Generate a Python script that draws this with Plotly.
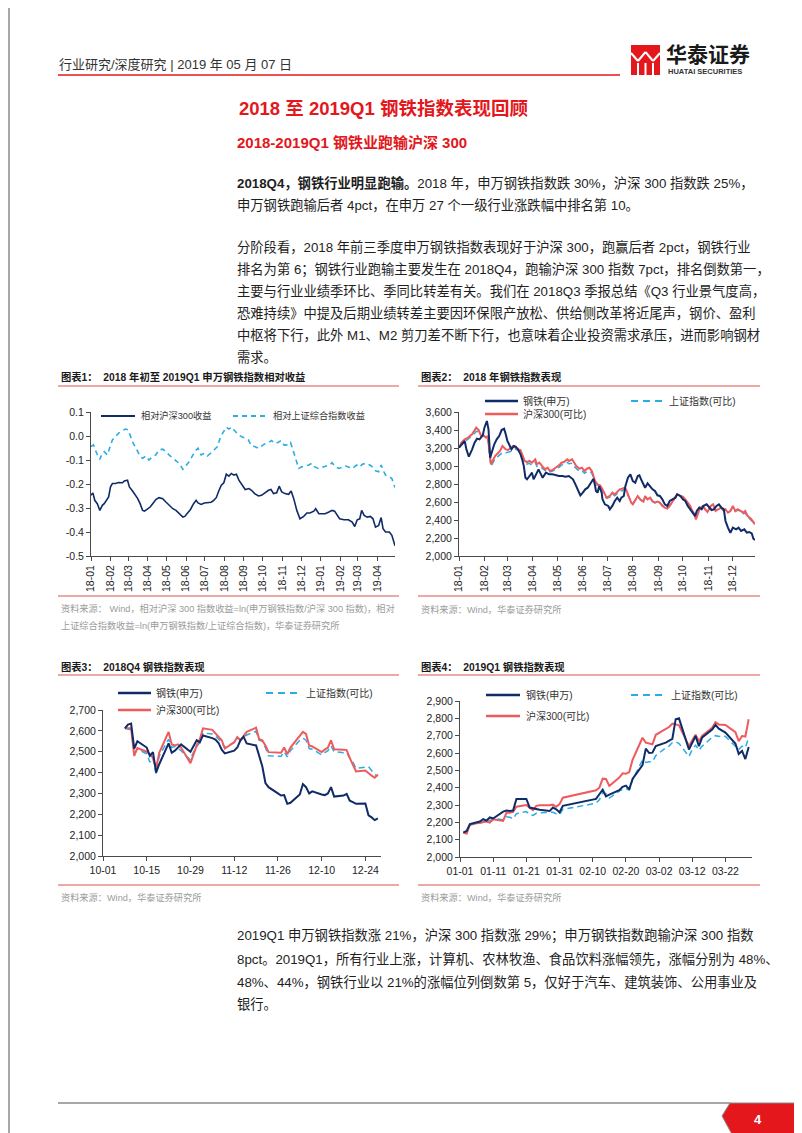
"""
Huatai steel report page: 2018 - 2019Q1 steel index review, four line charts.
"""

import pandas as pd
import plotly.graph_objects as go

W, H = 802, 1133

NAVY = "#0f2b68"
CYAN = "#29ade2"
RED = "#ef5a5c"
HT_RED = "#e3171c"
RULE = "#e98c88"
GREY_TXT = "#9b9b9b"
FONT = "Liberation Sans, Arial, Noto Sans CJK SC, sans-serif"

# ---------------- chart 1: relative return, days since 2018-01-01 ----------------
C1_BASE = "2018-01-01"
C1_HS300_DAY = [0, 3, 6, 10, 14, 18, 21, 25, 28, 31, 34, 39, 44, 50, 53, 58, 61, 66, 69, 74,
                78, 82, 85, 90, 94, 98, 103, 108, 114, 119, 124, 130, 135, 140, 146, 149, 154,
                158, 163, 167, 170, 175, 180, 186, 191, 195, 199, 203, 207, 211, 215, 219, 223,
                227, 231, 235, 240, 245, 251, 255, 260, 266, 271, 276, 282, 286, 290, 295, 299,
                303, 308, 314, 318, 322, 327, 332, 338, 343, 348, 354, 357, 362, 367, 372, 378,
                383, 387, 391, 395, 402, 409, 415, 419, 423, 427, 430, 434, 439, 444, 448, 452,
                457, 461, 464, 468, 474, 478, 483]
C1_HS300 = [-0.247, -0.237, -0.268, -0.282, -0.310, -0.289, -0.282, -0.268, -0.254, -0.212,
            -0.198, -0.198, -0.194, -0.195, -0.187, -0.184, -0.212, -0.229, -0.240, -0.260,
            -0.282, -0.310, -0.313, -0.303, -0.296, -0.282, -0.265, -0.257, -0.261, -0.275,
            -0.289, -0.303, -0.310, -0.321, -0.338, -0.335, -0.321, -0.306, -0.282, -0.268,
            -0.279, -0.285, -0.279, -0.279, -0.276, -0.268, -0.257, -0.229, -0.205, -0.195,
            -0.159, -0.167, -0.156, -0.163, -0.159, -0.184, -0.205, -0.223, -0.219, -0.226,
            -0.240, -0.250, -0.247, -0.237, -0.226, -0.223, -0.240, -0.237, -0.209, -0.233,
            -0.240, -0.243, -0.229, -0.260, -0.310, -0.345, -0.335, -0.321, -0.321, -0.313,
            -0.303, -0.324, -0.324, -0.324, -0.317, -0.310, -0.313, -0.331, -0.345, -0.349,
            -0.349, -0.359, -0.377, -0.349, -0.345, -0.310, -0.331, -0.338, -0.335, -0.345,
            -0.380, -0.373, -0.340, -0.386, -0.400, -0.400, -0.414, -0.457]
C1_SSE_DAY = [0, 4, 9, 14, 18, 21, 26, 30, 34, 39, 44, 50, 55, 59, 63, 67, 73, 78, 82, 87,
              92, 98, 103, 108, 114, 119, 124, 130, 135, 140, 146, 151, 156, 162, 165, 170,
              175, 180, 185, 190, 195, 201, 206, 211, 215, 219, 224, 228, 234, 239, 244, 250,
              255, 260, 266, 271, 276, 282, 287, 291, 297, 302, 307, 313, 317, 320, 324, 330,
              335, 340, 346, 351, 355, 361, 367, 373, 379, 383, 388, 394, 399, 405, 411, 416,
              420, 425, 428, 432, 437, 443, 448, 452, 457, 461, 464, 468, 474, 478, 483]
C1_SSE = [-0.044, -0.037, -0.072, -0.097, -0.072, -0.065, -0.079, -0.051, -0.016, -0.002,
          0.012, 0.023, 0.029, 0.026, -0.002, -0.030, -0.058, -0.086, -0.093, -0.083,
          -0.100, -0.086, -0.079, -0.058, -0.055, -0.065, -0.079, -0.093, -0.103, -0.114,
          -0.139, -0.125, -0.107, -0.079, -0.065, -0.051, -0.079, -0.072, -0.083, -0.072,
          -0.061, -0.044, -0.002, 0.019, 0.037, 0.029, 0.037, 0.023, 0.005, -0.002,
          -0.009, -0.016, -0.041, -0.044, -0.051, -0.041, -0.033, -0.027, -0.019, -0.030,
          -0.027, -0.019, -0.038, -0.037, -0.027, -0.051, -0.086, -0.135, -0.128, -0.125,
          -0.121, -0.114, -0.128, -0.135, -0.131, -0.128, -0.121, -0.111, -0.128, -0.135,
          -0.131, -0.125, -0.131, -0.135, -0.125, -0.117, -0.125, -0.117, -0.114, -0.121,
          -0.131, -0.145, -0.149, -0.121, -0.142, -0.163, -0.170, -0.177, -0.215]
C1_YTICKS = [0.1, 0.0, -0.1, -0.2, -0.3, -0.4, -0.5]
C1_YTICKTEXT = ["0.1", "0.0", "-0.1", "-0.2", "-0.3", "-0.4", "-0.5"]

# ---------------- chart 2: 2018 index levels, days since 2018-01-01 ----------------
C2_BASE = "2018-01-01"
C2_STEEL_DAY = [0, 3, 7, 9, 12, 16, 19, 22, 25, 29, 31, 34, 36, 38, 40, 43, 46, 49, 52, 55,
                57, 59, 61, 64, 67, 69, 72, 75, 77, 79, 81, 83, 86, 89, 91, 93, 97, 100, 102,
                106, 110, 114, 118, 122, 126, 130, 134, 139, 142, 145, 148, 151, 154, 157, 160,
                162, 164, 166, 167, 169, 171, 174, 175, 178, 182, 184, 187, 190, 193, 196, 198,
                201, 203, 206, 209, 212, 215, 218, 220, 223, 227, 230, 233, 236, 239, 242, 245,
                248, 251, 254, 257, 261, 264, 266, 270, 273, 276, 279, 282, 284, 288, 290, 293,
                296, 298, 302, 305, 308, 311, 314, 317, 320, 323, 325, 328, 331, 334, 338, 341,
                344, 348, 351, 354, 357, 359, 361]
C2_STEEL = [3204, 3241, 3278, 3185, 3104, 3185, 3259, 3304, 3296, 3341,
            3426, 3500, 3407, 3093, 3148, 3241, 3296, 3333, 3400, 3415,
            3352, 3278, 3241, 3185, 3222, 3215, 3185, 3130, 3074, 3000,
            2870, 2852, 2889, 2926, 2852, 2889, 2963, 2907, 2870, 2926,
            2907, 2907, 2896, 2889, 2889, 2881, 2889, 2852, 2796, 2741,
            2674, 2704, 2741, 2759, 2796, 2822, 2859, 2778, 2722, 2704,
            2778, 2704, 2630, 2574, 2556, 2519, 2556, 2611, 2648, 2611,
            2648, 2667, 2778, 2870, 2907, 2833, 2815, 2889, 2896, 2833,
            2759, 2807, 2770, 2741, 2722, 2674, 2667, 2630, 2574, 2556,
            2611, 2630, 2648, 2685, 2667, 2630, 2611, 2556, 2519, 2500,
            2444, 2500, 2537, 2519, 2556, 2574, 2537, 2511, 2519, 2556,
            2574, 2537, 2519, 2389, 2315, 2259, 2315, 2296, 2315, 2278,
            2296, 2259, 2267, 2252, 2193, 2178]
C2_IDX_DAY = [0, 3, 7, 11, 16, 19, 21, 24, 27, 30, 33, 35, 37, 39, 41, 44, 48, 50, 53, 57,
              60, 63, 66, 69, 72, 75, 78, 80, 83, 86, 89, 93, 95, 98, 102, 105, 108, 111, 114,
              118, 122, 125, 128, 132, 134, 138, 141, 143, 147, 150, 153, 156, 159, 162, 164,
              166, 169, 172, 175, 178, 180, 184, 187, 190, 193, 196, 199, 202, 204, 207, 210,
              212, 216, 218, 221, 225, 227, 230, 233, 236, 239, 242, 245, 248, 251, 254, 257,
              261, 264, 266, 270, 273, 276, 279, 282, 284, 287, 289, 292, 294, 298, 300, 303,
              307, 310, 313, 316, 320, 323, 325, 328, 331, 334, 337, 340, 343, 347, 349, 352,
              356, 358, 361]
C2_HS300 = [3204, 3259, 3296, 3315, 3352, 3389, 3426, 3400, 3333, 3341,
            3315, 3333, 3130, 3019, 3056, 3111, 3148, 3167, 3222, 3185,
            3178, 3204, 3222, 3204, 3185, 3178, 3111, 3056, 3044, 3056,
            3037, 3074, 3019, 3037, 2993, 2963, 2981, 2944, 2956, 2981,
            3007, 3037, 3044, 3074, 3056, 3074, 3019, 3000, 2970, 2981,
            2944, 2970, 2981, 2944, 2889, 2833, 2796, 2785, 2741, 2685,
            2648, 2667, 2704, 2685, 2711, 2741, 2748, 2759, 2733, 2667,
            2593, 2574, 2648, 2667, 2630, 2604, 2667, 2630, 2648, 2611,
            2593, 2604, 2593, 2556, 2537, 2526, 2556, 2611, 2667, 2685,
            2667, 2659, 2630, 2593, 2556, 2511, 2463, 2407, 2500, 2537,
            2556, 2519, 2489, 2556, 2574, 2500, 2519, 2537, 2500, 2519,
            2481, 2500, 2556, 2500, 2519, 2500, 2481, 2500, 2444, 2415,
            2389, 2352]
C2_SSE = [3204, 3240, 3270, 3300, 3330, 3360, 3385, 3380, 3330, 3335,
          3310, 3325, 3120, 3000, 3030, 3080, 3110, 3130, 3150, 3148,
          3150, 3160, 3175, 3190, 3170, 3160, 3100, 3050, 3020, 3030,
          3010, 3040, 2995, 3000, 2970, 2950, 2960, 2935, 2945, 2965,
          2985, 3010, 3020, 3040, 3025, 3030, 2990, 2970, 2940, 2950,
          2920, 2935, 2945, 2920, 2870, 2820, 2780, 2765, 2720, 2670,
          2640, 2655, 2690, 2670, 2690, 2720, 2725, 2740, 2715, 2660,
          2600, 2585, 2640, 2660, 2625, 2600, 2655, 2625, 2640, 2605,
          2590, 2600, 2590, 2560, 2540, 2530, 2560, 2610, 2660, 2680,
          2660, 2655, 2625, 2590, 2555, 2510, 2470, 2420, 2500, 2530,
          2545, 2515, 2490, 2550, 2565, 2510, 2515, 2530, 2500, 2515,
          2485, 2500, 2545, 2495, 2510, 2495, 2470, 2480, 2430, 2400,
          2380, 2385]

# ---------------- chart 3: 2018Q4 ----------------
Q4_DATES = [
    "2018-10-08", "2018-10-09", "2018-10-10", "2018-10-11", "2018-10-12",
    "2018-10-15", "2018-10-16", "2018-10-17", "2018-10-18", "2018-10-19",
    "2018-10-22", "2018-10-23", "2018-10-24", "2018-10-25", "2018-10-26",
    "2018-10-29", "2018-10-30", "2018-10-31", "2018-11-01", "2018-11-02",
    "2018-11-05", "2018-11-06", "2018-11-07", "2018-11-08", "2018-11-09",
    "2018-11-12", "2018-11-13", "2018-11-14", "2018-11-15", "2018-11-16",
    "2018-11-19", "2018-11-20", "2018-11-21", "2018-11-22", "2018-11-23",
    "2018-11-26", "2018-11-27", "2018-11-28", "2018-11-29", "2018-11-30",
    "2018-12-03", "2018-12-04", "2018-12-05", "2018-12-06", "2018-12-07",
    "2018-12-10", "2018-12-11", "2018-12-12", "2018-12-13", "2018-12-14",
    "2018-12-17", "2018-12-18", "2018-12-19", "2018-12-20", "2018-12-21",
    "2018-12-24", "2018-12-25", "2018-12-26", "2018-12-27", "2018-12-28",
]
Q4_STEEL = [2612, 2630, 2635, 2515, 2550, 2520, 2480, 2498, 2400, 2440,
            2540, 2495, 2505, 2520, 2535, 2500, 2525, 2555, 2545, 2578,
            2565, 2558, 2542, 2510, 2492, 2505, 2520, 2555, 2572, 2540,
            2530, 2480, 2430, 2350, 2330, 2300, 2290, 2292, 2250, 2255,
            2295, 2345, 2330, 2300, 2310, 2295, 2292, 2300, 2330, 2285,
            2290, 2298, 2265, 2258, 2250, 2252, 2195, 2185, 2172, 2180]
Q4_HS300 = [2612, 2612, 2612, 2480, 2518, 2500, 2488, 2470, 2420, 2495,
            2595, 2535, 2530, 2535, 2520, 2445, 2490, 2530, 2560, 2612,
            2605, 2590, 2575, 2555, 2515, 2545, 2570, 2555, 2575, 2595,
            2615, 2560, 2555, 2530, 2498, 2495, 2495, 2520, 2488, 2520,
            2580, 2595, 2585, 2530, 2525, 2498, 2510, 2520, 2555, 2512,
            2510, 2508, 2470, 2440, 2405, 2410, 2395, 2385, 2375, 2390]
Q4_SSE = [2612, 2608, 2605, 2492, 2512, 2490, 2450, 2470, 2395, 2480,
          2560, 2520, 2525, 2515, 2505, 2460, 2500, 2525, 2545, 2590,
          2585, 2575, 2560, 2545, 2520, 2545, 2565, 2555, 2570, 2580,
          2598, 2555, 2550, 2520, 2480, 2478, 2478, 2500, 2475, 2505,
          2555, 2565, 2555, 2515, 2512, 2485, 2495, 2505, 2528, 2500,
          2495, 2495, 2470, 2450, 2420, 2425, 2428, 2410, 2390, 2385]

# ---------------- chart 4: 2019Q1 ----------------
Q1_DATES = [
    "2019-01-02", "2019-01-03", "2019-01-04", "2019-01-07", "2019-01-08", "2019-01-09",
    "2019-01-10", "2019-01-11", "2019-01-14", "2019-01-15", "2019-01-16", "2019-01-17",
    "2019-01-18", "2019-01-21", "2019-01-22", "2019-01-23", "2019-01-24", "2019-01-25",
    "2019-01-28", "2019-01-29", "2019-01-30", "2019-01-31", "2019-02-01", "2019-02-11",
    "2019-02-12", "2019-02-13", "2019-02-14", "2019-02-15", "2019-02-18", "2019-02-19",
    "2019-02-20", "2019-02-21", "2019-02-22", "2019-02-25", "2019-02-26", "2019-02-27",
    "2019-02-28", "2019-03-01", "2019-03-04", "2019-03-05", "2019-03-06", "2019-03-07",
    "2019-03-08", "2019-03-11", "2019-03-12", "2019-03-13", "2019-03-14", "2019-03-15",
    "2019-03-18", "2019-03-19", "2019-03-20", "2019-03-21", "2019-03-22", "2019-03-25",
    "2019-03-26", "2019-03-27", "2019-03-28", "2019-03-29",
]
Q1_STEEL = [2140, 2150, 2190, 2205, 2218, 2210, 2228, 2222, 2262, 2268, 2265, 2268,
            2335, 2335, 2285, 2280, 2275, 2272, 2265, 2285, 2275, 2258, 2295, 2335,
            2362, 2388, 2350, 2360, 2385, 2405, 2412, 2390, 2450, 2530, 2625, 2600,
            2602, 2640, 2660, 2670, 2682, 2795, 2800, 2620, 2660, 2698, 2640, 2690,
            2735, 2762, 2740, 2728, 2718, 2655, 2595, 2612, 2565, 2635]
Q1_HS300 = [2142, 2135, 2188, 2198, 2200, 2205, 2198, 2218, 2208, 2255, 2255, 2260,
            2290, 2300, 2285, 2270, 2295, 2298, 2298, 2302, 2290, 2305, 2342, 2385,
            2400, 2452, 2450, 2410, 2458, 2483, 2480, 2490, 2560, 2688, 2660, 2655,
            2650, 2705, 2738, 2750, 2770, 2765, 2760, 2640, 2675, 2705, 2668, 2700,
            2745, 2778, 2765, 2765, 2762, 2720, 2668, 2698, 2695, 2795]
Q1_SSE = [2140, 2145, 2185, 2195, 2200, 2210, 2208, 2222, 2215, 2232, 2230, 2220,
          2250, 2262, 2245, 2240, 2252, 2255, 2255, 2258, 2250, 2245, 2275, 2310,
          2330, 2370, 2365, 2340, 2380, 2390, 2395, 2385, 2445, 2560, 2545, 2550,
          2550, 2585, 2630, 2640, 2660, 2665, 2655, 2580, 2620, 2645, 2615, 2640,
          2690, 2700, 2695, 2700, 2695, 2640, 2620, 2640, 2630, 2690]

# ---------------- page text ----------------
HEADER = "行业研究/深度研究 | 2019 年 05 月 07 日"
TITLE = "2018 至 2019Q1 钢铁指数表现回顾"
SUBTITLE = "2018-2019Q1 钢铁业跑输沪深 300"
PARA_TOP = [
    "<b>2018Q4，钢铁行业明显跑输。</b>2018 年，申万钢铁指数跌 30%，沪深 300 指数跌 25%，",
    "申万钢铁跑输后者 4pct，在申万 27 个一级行业涨跌幅中排名第 10。",
    None,
    "分阶段看，2018 年前三季度申万钢铁指数表现好于沪深 300，跑赢后者 2pct，钢铁行业",
    "排名为第 6；钢铁行业跑输主要发生在 2018Q4，跑输沪深 300 指数 7pct，排名倒数第一，",
    "主要与行业业绩季环比、季同比转差有关。我们在 2018Q3 季报总结《Q3 行业景气度高，",
    "恐难持续》中提及后期业绩转差主要因环保限产放松、供给侧改革将近尾声，钢价、盈利",
    "中枢将下行，此外 M1、M2 剪刀差不断下行，也意味着企业投资需求承压，进而影响钢材",
    "需求。",
]
PARA_BOTTOM = [
    "2019Q1 申万钢铁指数涨 21%，沪深 300 指数涨 29%；申万钢铁指数跑输沪深 300 指数",
    "8pct。2019Q1，所有行业上涨，计算机、农林牧渔、食品饮料涨幅领先，涨幅分别为 48%、",
    "48%、44%，钢铁行业以 21%的涨幅位列倒数第 5，仅好于汽车、建筑装饰、公用事业及",
    "银行。",
]
CHART_TITLES = [
    "图表1：\u00a0\u00a02018 年初至 2019Q1 申万钢铁指数相对收益",
    "图表2：\u00a0\u00a02018 年钢铁指数表现",
    "图表3：\u00a0\u00a02018Q4 钢铁指数表现",
    "图表4：\u00a0\u00a02019Q1 钢铁指数表现",
]
SOURCE_1 = [
    "资料来源：\u00a0Wind，相对沪深 300 指数收益=ln(申万钢铁指数/沪深 300 指数)，相对",
    "上证综合指数收益=ln(申万钢铁指数/上证综合指数)，华泰证券研究所",
]
SOURCE_STD = "资料来源：Wind，华泰证券研究所"
LEG_C1 = ["相对沪深300收益", "相对上证综合指数收益"]
LEG_IDX = ["钢铁(申万)", "上证指数(可比)", "沪深300(可比)"]


def px(x, y):
    """Pixel position on the page to paper coordinates."""
    return x / W, 1 - y / H


def add_text(fig, x, y, s, size=14, color="#1e1e1e", anchor="left"):
    xp, yp = px(x, y)
    fig.add_annotation(
        x=xp, y=yp, xref="paper", yref="paper", text=s, showarrow=False,
        xanchor=anchor, yanchor="middle", borderpad=0,
        font=dict(family=FONT, size=size, color=color),
    )


def add_line(fig, x0, y0, x1, y1, color, width=1.0, dash="solid"):
    a, b = px(x0, y0)
    c, d = px(x1, y1)
    fig.add_shape(type="line", xref="paper", yref="paper", x0=a, y0=b, x1=c, y1=d,
                  line=dict(color=color, width=width, dash=dash))


def add_poly(fig, pts, fill, line_color=None, width=0):
    path = "M " + " L ".join(f"{x / W:.5f},{1 - y / H:.5f}" for x, y in pts) + " Z"
    fig.add_shape(type="path", xref="paper", yref="paper", path=path, fillcolor=fill,
                  line=dict(color=line_color or fill, width=width))


def axis(**kw):
    base = dict(
        showline=True, linecolor="#4a4a4a", linewidth=1,
        ticks="outside", ticklen=4, tickwidth=1, tickcolor="#4a4a4a",
        showgrid=False, zeroline=False, fixedrange=True,
        tickfont=dict(family=FONT, size=10.5, color="#222"),
    )
    base.update(kw)
    return base


def dates_from(base, days):
    return pd.Timestamp(base) + pd.to_timedelta(days, unit="D")


fig = go.Figure()

# chart 1
fig.add_trace(go.Scatter(x=dates_from(C1_BASE, C1_SSE_DAY), y=C1_SSE, mode="lines",
                         line=dict(color=CYAN, width=1.6, dash="5px,4px"), xaxis="x", yaxis="y"))
fig.add_trace(go.Scatter(x=dates_from(C1_BASE, C1_HS300_DAY), y=C1_HS300, mode="lines",
                         line=dict(color=NAVY, width=1.6), xaxis="x", yaxis="y"))

# charts 2-4
series = [
    ("x2", "y2", dates_from(C2_BASE, C2_IDX_DAY), C2_SSE, dates_from(C2_BASE, C2_IDX_DAY), C2_HS300,
     dates_from(C2_BASE, C2_STEEL_DAY), C2_STEEL),
    ("x3", "y3", Q4_DATES, Q4_SSE, Q4_DATES, Q4_HS300, Q4_DATES, Q4_STEEL),
    ("x4", "y4", Q1_DATES, Q1_SSE, Q1_DATES, Q1_HS300, Q1_DATES, Q1_STEEL),
]
for xa, ya, xs, sse, xh, hs, xst, st in series:
    fig.add_trace(go.Scatter(x=xs, y=sse, mode="lines", xaxis=xa, yaxis=ya,
                             line=dict(color=CYAN, width=1.5, dash="6px,4px")))
    fig.add_trace(go.Scatter(x=xh, y=hs, mode="lines", xaxis=xa, yaxis=ya,
                             line=dict(color=RED, width=2.0)))
    fig.add_trace(go.Scatter(x=xst, y=st, mode="lines", xaxis=xa, yaxis=ya,
                             line=dict(color=NAVY, width=2.0)))

DAY_MS = 86400000
fig.update_layout(
    width=W, height=H, template="none", showlegend=False,
    margin=dict(l=0, r=0, t=0, b=0),
    paper_bgcolor="white", plot_bgcolor="white",
    xaxis=axis(domain=[83 / W, 387 / W], anchor="y", type="date",
               range=["2018-01-01", "2019-04-29"], tick0="2018-01-01", dtick="M1",
               tickformat="%y-%m", tickangle=-90),
    yaxis=axis(domain=[1 - 548 / H, 1 - 404 / H], anchor="x", range=[-0.5, 0.1],
               tickvals=C1_YTICKS, ticktext=C1_YTICKTEXT),
    xaxis2=axis(domain=[451 / W, 747 / W], anchor="y2", type="date",
                range=["2018-01-01", "2018-12-28"], tick0="2018-01-01", dtick="M1",
                tickformat="%y-%m", tickangle=-90),
    yaxis2=axis(domain=[1 - 548 / H, 1 - 404 / H], anchor="x2", range=[2000, 3600],
                dtick=200, tickformat=",d"),
    xaxis3=axis(domain=[95 / W, 373 / W], anchor="y3", type="date",
                range=["2018-10-01", "2018-12-29"], tick0="2018-10-01", dtick=14 * DAY_MS,
                tickformat="%m-%d", tickangle=0),
    yaxis3=axis(domain=[1 - 848 / H, 1 - 702 / H], anchor="x3", range=[2000, 2700],
                dtick=100, tickformat=",d"),
    xaxis4=axis(domain=[452 / W, 744 / W], anchor="y4", type="date",
                range=["2019-01-01", "2019-03-30"], tick0="2019-01-01", dtick=10 * DAY_MS,
                tickformat="%m-%d", tickangle=0),
    yaxis4=axis(domain=[1 - 849 / H, 1 - 693 / H], anchor="x4", range=[2000, 2900],
                dtick=100, tickformat=",d"),
)

# ---- page frame and header ----
add_line(fig, 1, 0, 1, 1132, "#8a8a8a", 1.5)
add_line(fig, 801, 0, 801, 1132, "#8a8a8a", 1.5)
add_line(fig, 1, 1132, 801, 1132, "#8a8a8a", 1.5)

add_text(fig, 50, 57, HEADER, size=13, color="#333")
add_line(fig, 50, 67, 612, 67, HT_RED, 1.6)

# logo mark
add_poly(fig, [(623, 37), (652, 37), (652, 67), (623, 67)], HT_RED)
add_line(fig, 623, 45, 630, 53, "white", 2)
add_line(fig, 630, 53, 637.5, 44, "white", 2)
add_line(fig, 637.5, 44, 645, 53, "white", 2)
add_line(fig, 645, 53, 652, 45, "white", 2)
for xv in (630, 637.5, 645):
    add_line(fig, xv, 55, xv, 67, "white", 2)
add_text(fig, 657, 47, "<b>华泰证券</b>", size=21, color="#1a1a1a")
add_text(fig, 659, 64, "<b>HUATAI SECURITIES</b>", size=7.5, color="#333")

add_text(fig, 375, 100, f"<b>{TITLE}</b>", size=18.5, color=HT_RED, anchor="center")
add_text(fig, 228, 134, f"<b>{SUBTITLE}</b>", size=15, color=HT_RED)

BODY = 13.3
top_y = [175, 197, None, 239, 261, 283, 305, 327, 349]
for line, yv in zip(PARA_TOP, top_y):
    if line:
        add_text(fig, 228, yv, line, size=BODY)
for line, yv in zip(PARA_BOTTOM, [928, 951, 974, 996]):
    add_text(fig, 228, yv, line, size=BODY)

# ---- chart frames: titles, rules, sources ----
for (x0, x1, ty, rule_top, rule_bot), title in zip(
    [(50, 391, 369, 378, 588), (410, 752, 369, 378, 588),
     (50, 391, 659, 667, 877), (410, 752, 659, 667, 877)],
    CHART_TITLES,
):
    add_text(fig, x0 + 2, ty, f"<b>{title}</b>", size=10.3, color="#1a1a1a")
    add_line(fig, x0, rule_top, x1, rule_top, RULE, 1.5)
    add_line(fig, x0, rule_bot, x1, rule_bot, RULE, 1.5)

add_text(fig, 52, 600, SOURCE_1[0], size=9.2, color=GREY_TXT)
add_text(fig, 52, 617, SOURCE_1[1], size=9.2, color=GREY_TXT)
add_text(fig, 412, 601, SOURCE_STD, size=9.2, color=GREY_TXT)
add_text(fig, 52, 889, SOURCE_STD, size=9.2, color=GREY_TXT)
add_text(fig, 412, 889, SOURCE_STD, size=9.2, color=GREY_TXT)

# ---- legends ----
add_line(fig, 93, 408, 127, 408, NAVY, 2)
add_text(fig, 132, 408, LEG_C1[0], size=9.2, color="#333")
add_line(fig, 225, 408, 260, 408, CYAN, 2, "5px,4px")
add_text(fig, 264, 408, LEG_C1[1], size=9.2, color="#333")

for lx, rx, tx, dx0, dx1, dtx, y_top, y_red in [
    (477, 510, 514, 623, 655, 660, 393, 406),
    (110, 143, 147, 258, 293, 297, 685, 702),
    (478, 512, 517, 623, 657, 662, 687, 708),
]:
    add_line(fig, lx, y_top, rx, y_top, NAVY, 2.5)
    add_text(fig, tx, y_top, LEG_IDX[0], size=10, color="#333")
    add_line(fig, dx0, y_top, dx1, y_top, CYAN, 2.2, "7px,5px")
    add_text(fig, dtx, y_top, LEG_IDX[1], size=10, color="#333")
    add_line(fig, lx, y_red, rx, y_red, RED, 2.5)
    add_text(fig, tx, y_red, LEG_IDX[2], size=10, color="#333")

# ---- footer ----
add_line(fig, 50, 1095, 722, 1095, "#8a8a8a", 1.5)
add_poly(fig, [(722, 1095), (714, 1108), (726, 1130), (800, 1130), (800, 1095)], HT_RED,
         line_color="#8a8a8a", width=1)
add_text(fig, 750, 1111, "<b>4</b>", size=13, color="white", anchor="center")

fig.write_html("out.html")
